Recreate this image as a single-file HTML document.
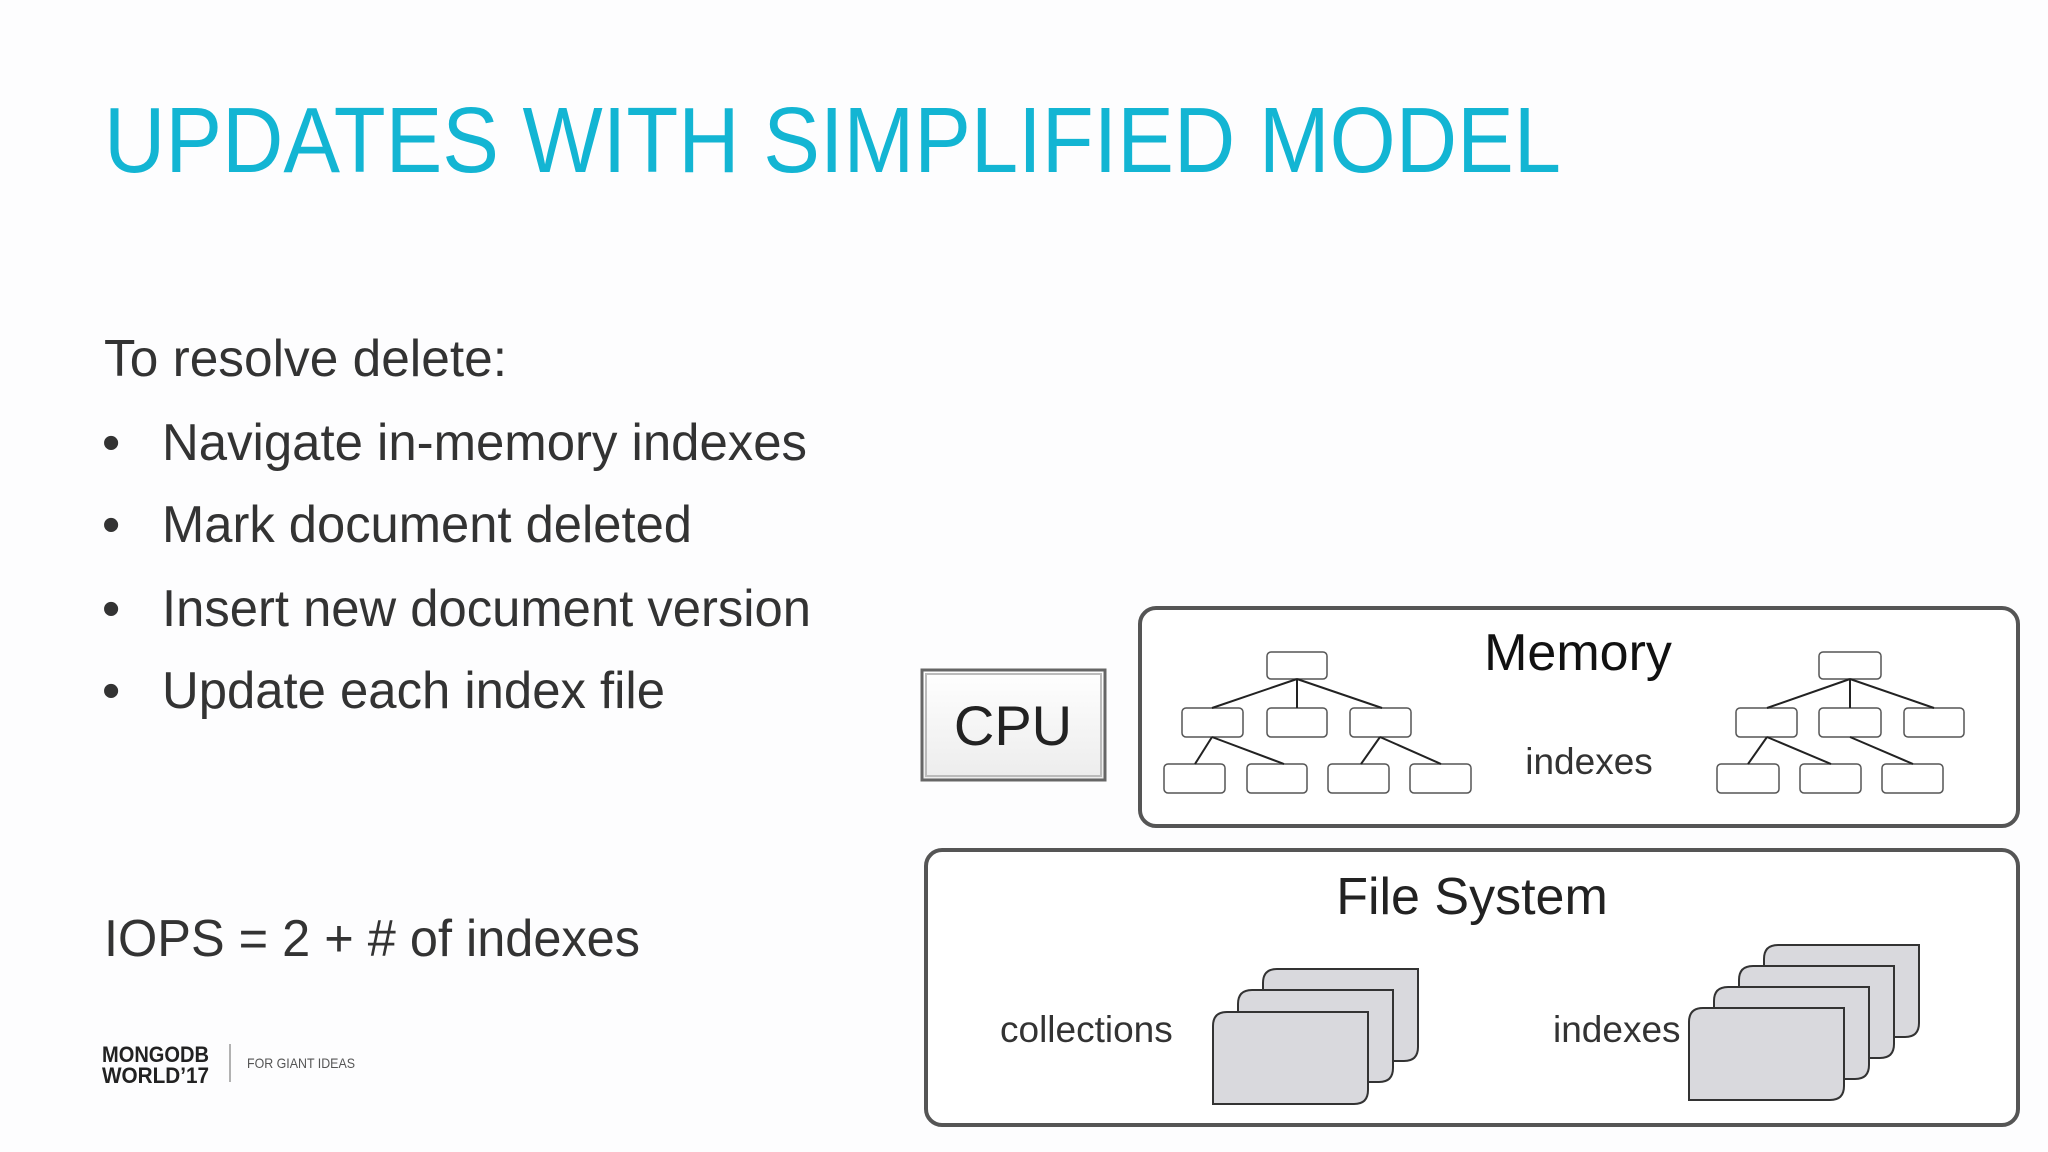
<!DOCTYPE html>
<html><head><meta charset="utf-8"><style>
html,body{margin:0;padding:0;background:#fff;}
svg{display:block;}
text{font-family:"Liberation Sans",Arial,sans-serif;}
</style></head><body>
<svg width="2048" height="1152" viewBox="0 0 2048 1152" xmlns="http://www.w3.org/2000/svg">
<defs>
<linearGradient id="cpu" x1="0" y1="0" x2="0" y2="1"><stop offset="0" stop-color="#ffffff"/><stop offset="1" stop-color="#ececec"/></linearGradient>
<g id="page"><path d="M14,0 H155 V78 Q155,92 141,92 H0 V14 Q0,0 14,0 Z" fill="#d9d9dd" stroke="#333" stroke-width="2"/></g>
</defs>
<rect width="2048" height="1152" fill="#fdfdfe"/>
<text x="104" y="172" font-size="93" fill="#13b5d3" textLength="1457" lengthAdjust="spacingAndGlyphs">UPDATES WITH SIMPLIFIED MODEL</text>
<g fill="#333" font-size="52">
<text x="104" y="376" textLength="403" lengthAdjust="spacingAndGlyphs">To resolve delete:</text>
<text x="102" y="460">•</text><text x="162" y="460" textLength="645" lengthAdjust="spacingAndGlyphs">Navigate in-memory indexes</text>
<text x="102" y="542">•</text><text x="162" y="542" textLength="530" lengthAdjust="spacingAndGlyphs">Mark document deleted</text>
<text x="102" y="626">•</text><text x="162" y="626" textLength="649" lengthAdjust="spacingAndGlyphs">Insert new document version</text>
<text x="102" y="708">•</text><text x="162" y="708" textLength="503" lengthAdjust="spacingAndGlyphs">Update each index file</text>
<text x="104" y="956" textLength="536" lengthAdjust="spacingAndGlyphs">IOPS = 2 + # of indexes</text>
</g>
<text x="102" y="1062" font-size="22" font-weight="bold" fill="#222" textLength="107" lengthAdjust="spacingAndGlyphs">MONGODB</text>
<text x="102" y="1083" font-size="22" font-weight="bold" fill="#222" textLength="107" lengthAdjust="spacingAndGlyphs">WORLD’17</text>
<line x1="230" y1="1044" x2="230" y2="1082" stroke="#999" stroke-width="1.5"/>
<text x="247" y="1068" font-size="14" fill="#555" textLength="108" lengthAdjust="spacingAndGlyphs">FOR GIANT IDEAS</text>

<!-- CPU -->
<rect x="922" y="670" width="183" height="110" fill="url(#cpu)" stroke="#666" stroke-width="3"/>
<rect x="926" y="674" width="175" height="102" fill="none" stroke="#bbb" stroke-width="2"/>
<text x="1013" y="745" font-size="56" fill="#222" text-anchor="middle">CPU</text>

<!-- Memory -->
<rect x="1140" y="608" width="878" height="218" rx="16" fill="#fff" stroke="#555" stroke-width="4"/>
<text x="1578" y="670" font-size="52" fill="#111" text-anchor="middle">Memory</text>
<text x="1589" y="774" font-size="37" fill="#333" text-anchor="middle">indexes</text>
<g fill="#fff" stroke="#555" stroke-width="1.5">
<rect x="1267" y="652" width="60" height="27" rx="4"/>
<rect x="1182" y="708" width="61" height="29" rx="4"/><rect x="1267" y="708" width="60" height="29" rx="4"/><rect x="1350" y="708" width="61" height="29" rx="4"/>
<rect x="1164" y="764" width="61" height="29" rx="4"/><rect x="1247" y="764" width="60" height="29" rx="4"/><rect x="1328" y="764" width="61" height="29" rx="4"/><rect x="1410" y="764" width="61" height="29" rx="4"/>
<rect x="1819" y="652" width="62" height="27" rx="4"/>
<rect x="1736" y="708" width="61" height="29" rx="4"/><rect x="1819" y="708" width="62" height="29" rx="4"/><rect x="1904" y="708" width="60" height="29" rx="4"/>
<rect x="1717" y="764" width="62" height="29" rx="4"/><rect x="1800" y="764" width="61" height="29" rx="4"/><rect x="1882" y="764" width="61" height="29" rx="4"/>
</g>
<g stroke="#222" stroke-width="2">
<line x1="1297" y1="679" x2="1212" y2="708"/><line x1="1297" y1="679" x2="1297" y2="708"/><line x1="1297" y1="679" x2="1382" y2="708"/>
<line x1="1212" y1="737" x2="1195" y2="764"/><line x1="1212" y1="737" x2="1284" y2="764"/>
<line x1="1380" y1="737" x2="1361" y2="764"/><line x1="1380" y1="737" x2="1441" y2="764"/>
<line x1="1850" y1="679" x2="1767" y2="708"/><line x1="1850" y1="679" x2="1850" y2="708"/><line x1="1850" y1="679" x2="1934" y2="708"/>
<line x1="1767" y1="737" x2="1748" y2="764"/><line x1="1767" y1="737" x2="1831" y2="764"/>
<line x1="1850" y1="737" x2="1913" y2="764"/>
</g>

<!-- File system -->
<rect x="926" y="850" width="1092" height="275" rx="16" fill="#fff" stroke="#555" stroke-width="4"/>
<text x="1472" y="914" font-size="52" fill="#222" text-anchor="middle">File System</text>
<text x="1000" y="1042" font-size="37" fill="#333">collections</text>
<text x="1553" y="1042" font-size="37" fill="#333">indexes</text>
<use href="#page" x="1263" y="969"/><use href="#page" x="1238" y="990"/><use href="#page" x="1213" y="1012"/>
<use href="#page" x="1764" y="945"/><use href="#page" x="1739" y="966"/><use href="#page" x="1714" y="987"/><use href="#page" x="1689" y="1008"/>
</svg>
</body></html>
